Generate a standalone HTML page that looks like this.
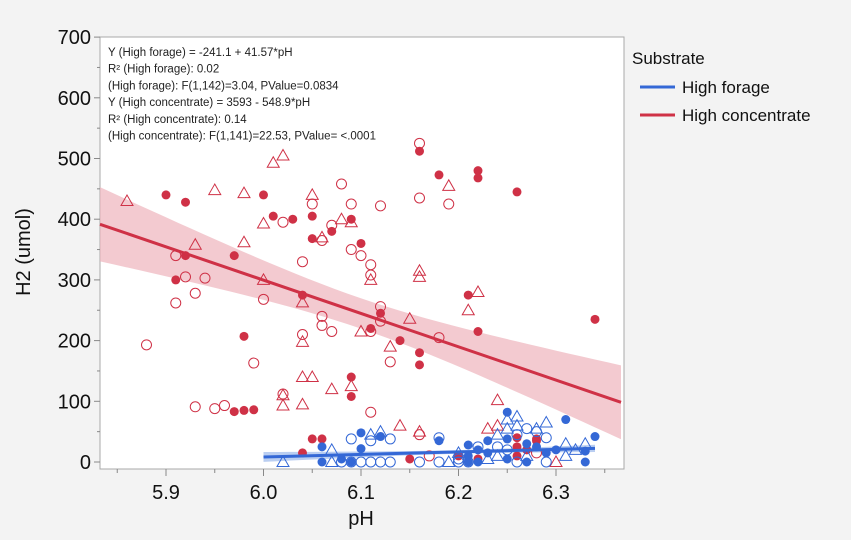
<!DOCTYPE html>
<html><head><meta charset="utf-8"><style>
body{margin:0;background:#f3f3f3;}
svg{display:block;font-family:"Liberation Sans",sans-serif;}
</style></head><body>
<svg id="chart" width="851" height="540">
<rect x="0" y="0" width="851" height="540" fill="#f3f3f3"/>
</svg>
<script>
const redTriPH=[5.86,5.95,5.98,6.01,6.02,5.93,5.98,6.00,6.00,6.02,6.02,6.04,6.05,6.04,6.04,6.04,6.05,6.07,6.09,6.06,6.08,6.09,6.11,6.10,6.13,6.15,6.16,6.16,6.19,6.21,6.22,6.14,6.16,6.24,6.24,6.23,6.30];
const redTriH2=[430,448,443,493,505,358,362,300,393,110,93,95,440,263,198,140,140,120,125,370,400,395,300,215,190,236,315,305,455,250,280,60,50,60,102,55,0];
const redFillPH=[5.90,5.92,6.00,6.03,5.91,5.92,5.97,5.98,5.97,5.98,5.99,6.01,6.05,6.05,6.04,6.09,6.09,6.07,6.09,6.10,6.11,6.12,6.14,6.16,6.16,6.16,6.18,6.21,6.22,6.22,6.22,6.26,6.34,6.05,6.06,6.04,6.15,6.26,6.26,6.28,6.28,6.27,6.20,6.22,6.26];
const redFillH2=[440,428,440,400,300,340,340,207,83,85,86,405,405,368,275,108,140,380,400,360,220,245,200,512,180,160,473,275,480,468,215,445,235,38,38,15,5,40,25,38,35,20,10,5,10];
const redOpenPH=[6.02,5.88,5.91,5.91,5.92,5.93,5.94,5.99,6.00,5.93,5.95,5.96,6.02,6.04,6.05,6.04,6.06,6.06,6.06,6.07,6.07,6.08,6.09,6.09,6.10,6.11,6.11,6.12,6.12,6.12,6.11,6.13,6.16,6.16,6.19,6.18,6.11,6.16,6.17,6.28];
const redOpenH2=[395,193,262,340,305,278,303,163,268,91,88,93,112,210,425,330,240,225,365,390,215,458,425,350,340,325,215,256,232,422,308,165,525,435,425,205,82,45,10,15];
const blueOpenPH=[6.09,6.13,6.11,6.08,6.09,6.10,6.11,6.12,6.13,6.16,6.18,6.18,6.20,6.21,6.22,6.25,6.26,6.26,6.27,6.28,6.29,6.29,6.24,6.20];
const blueOpenH2=[38,38,35,0,0,0,0,0,0,0,0,40,0,0,25,20,45,0,55,50,40,0,25,5];
const blueFillPH=[6.10,6.12,6.10,6.06,6.06,6.08,6.09,6.18,6.21,6.21,6.22,6.23,6.23,6.25,6.25,6.25,6.27,6.27,6.28,6.29,6.30,6.31,6.33,6.33,6.34,6.22,6.21];
const blueFillH2=[48,42,22,25,0,5,0,35,28,10,20,35,15,82,38,5,30,0,25,15,20,70,18,0,42,0,0];
const blueTriPH=[6.11,6.12,6.07,6.02,6.07,6.19,6.20,6.24,6.24,6.25,6.25,6.26,6.26,6.27,6.28,6.29,6.31,6.32,6.33,6.31,6.23];
const blueTriH2=[45,50,20,0,0,0,15,45,10,70,55,75,60,10,55,65,30,20,30,10,5];
const xTicks=[5.9,6.0,6.1,6.2,6.3];
const yTicks=[0,100,200,300,400,500,600,700];
const fitRed=[3593,-548.9];
const fitBlue=[-241.1,41.57];
const RED='#cf3146',BLUE='#3468d6';
const svg=document.getElementById('chart');
const NS='http://www.w3.org/2000/svg';
const X=p=>166+(p-5.9)*975;
const Y=v=>462-v*0.607;
const L=100,R=624,T=37,B=469;
function mk(tag,attrs,parent){const e=document.createElementNS(NS,tag);for(const k in attrs)e.setAttribute(k,attrs[k]);(parent||svg).appendChild(e);return e;}
let e=mk('rect',{x:L,y:T,width:R-L,height:B-T,fill:'#fff',stroke:'#a8a8a8','stroke-width':1});


function band(fit,x0,x1,a,m,s,col,op,name){let up=[],dn=[];for(let i=0;i<=40;i++){const p=x0+(x1-x0)*i/40;const y=fit[0]+fit[1]*p;const w=a*Math.sqrt(1+((p-m)/s)**2);up.push(X(p)+','+Y(y+w));dn.unshift(X(p)+','+Y(y-w));}
const el=mk('polygon',{points:up.concat(dn).join(' '),fill:col,opacity:op});

}
const rx0=(L-166)/975+5.9,rx1=(R-3-166)/975+5.9;
band(fitRed,rx0,rx1,25,6.1,0.12,'#eeb3bc',0.7,'red-confidence-band');
band(fitBlue,6.0,6.34,3,6.2,0.08,'#a9c2ee',0.8,'blue-confidence-band');
function pts(ph,h,s,col,nm){for(let i=0;i<ph.length;i++){const cx=X(ph[i]),cy=Y(h[i]);let el;
if(s==='f')el=mk('circle',{cx:cx,cy:cy,r:4.5,fill:col});
else if(s==='o')el=mk('circle',{cx:cx,cy:cy,r:5,fill:'none',stroke:col,'stroke-width':1});
else el=mk('polygon',{points:`${cx},${cy-6} ${cx-6},${cy+4.5} ${cx+6},${cy+4.5}`,fill:'none',stroke:col,'stroke-width':1});

}}
pts(redTriPH,redTriH2,'t',RED,'high-concentrate-point');
pts(redFillPH,redFillH2,'f',RED,'high-concentrate-point');
pts(redOpenPH,redOpenH2,'o',RED,'high-concentrate-point');
pts(blueOpenPH,blueOpenH2,'o',BLUE,'high-forage-point');
pts(blueTriPH,blueTriH2,'t',BLUE,'high-forage-point');
pts(blueFillPH,blueFillH2,'f',BLUE,'high-forage-point');
e=mk('line',{x1:X(rx0),y1:Y(fitRed[0]+fitRed[1]*rx0),x2:X(rx1),y2:Y(fitRed[0]+fitRed[1]*rx1),stroke:RED,'stroke-width':3});


e=mk('line',{x1:X(6.0),y1:Y(fitBlue[0]+fitBlue[1]*6.0),x2:X(6.34),y2:Y(fitBlue[0]+fitBlue[1]*6.34),stroke:BLUE,'stroke-width':3});


for(const v of yTicks){mk('line',{x1:L-6,y1:Y(v),x2:L,y2:Y(v),stroke:'#888'});
e=mk('text',{x:L-9,y:Y(v)+7,'text-anchor':'end','font-size':20,fill:'#111'});e.textContent=v;


if(v<700)mk('line',{x1:L-3,y1:Y(v+50),x2:L,y2:Y(v+50),stroke:'#888'});}
for(const v of xTicks){mk('line',{x1:X(v),y1:B,x2:X(v),y2:B+7,stroke:'#888'});mk('line',{x1:X(v-0.05),y1:B,x2:X(v-0.05),y2:B+4,stroke:'#888'});
e=mk('text',{x:X(v),y:B+30,'text-anchor':'middle','font-size':20,fill:'#111'});e.textContent=v.toFixed(1);

}
mk('line',{x1:X(6.35),y1:B,x2:X(6.35),y2:B+4,stroke:'#888'});
e=mk('text',{x:X(6.1),y:525,'text-anchor':'middle','font-size':20,fill:'#111'});e.textContent='pH';


e=mk('text',{x:0,y:0,'text-anchor':'middle','font-size':20,fill:'#111',transform:'translate(30,252) rotate(-90)'});e.textContent='H2 (umol)';


const notes=['Y (High forage) = -241.1 + 41.57*pH','R² (High forage): 0.02','(High forage): F(1,142)=3.04, PValue=0.0834','Y (High concentrate) = 3593 - 548.9*pH','R² (High concentrate): 0.14','(High concentrate): F(1,141)=22.53, PValue= <.0001'];
notes.forEach((t,i)=>{const el=mk('text',{x:108,y:56+i*16.7,'font-size':11.5,fill:'#222'});el.textContent=t;

});
e=mk('text',{x:632,y:64,'font-size':17,fill:'#111'});e.textContent='Substrate';


[['High forage',BLUE,87],['High concentrate',RED,115]].forEach(([t,c,y])=>{
const g=mk('g',{});


mk('line',{x1:640,y1:y,x2:675,y2:y,stroke:c,'stroke-width':3},g);
const tx=mk('text',{x:682,y:y+6,'font-size':17,fill:'#111'},g);tx.textContent=t;});
</script>
</body></html>
